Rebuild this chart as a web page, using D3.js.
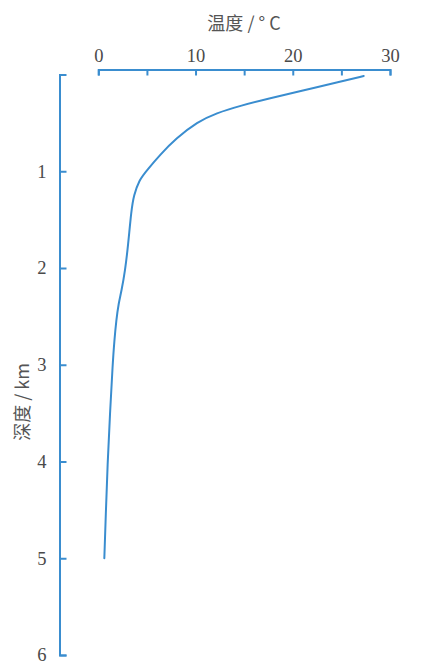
<!DOCTYPE html>
<html><head><meta charset="utf-8">
<script src="https://cdn.jsdelivr.net/npm/d3@7"></script>
<style>
html,body{margin:0;padding:0;background:#fff;}
</style></head>
<body>
<svg id="c" width="425" height="663"></svg>
<script>
const depthKm = [0.015, 0.075, 0.17, 0.25, 0.32, 0.40, 0.49, 0.66, 0.83, 0.99, 1.09, 1.25, 1.40, 1.78, 2.03, 2.23, 2.37, 2.54, 2.75, 2.99, 3.51, 4.03, 4.55, 5.0];
const tempC   = [27.3, 24.9, 20.8, 17.5, 14.7, 12.1, 10.2, 8.0, 6.35, 5.0, 4.2, 3.65, 3.4, 3.05, 2.75, 2.4, 2.08, 1.85, 1.65, 1.48, 1.2, 0.95, 0.77, 0.62];
const tempTicks = [0, 5, 10, 15, 20, 25, 30];
const tempLabels = [0, 10, 20, 30];
const depthTicks = [1, 2, 3, 4, 5, 6];
const xTitle = "温度 / ° C";
const yTitle = "深度 / km";

const blue = "#3a8dcf";
const textCol = "#4a4a4a";
const serif = "'Liberation Serif','DejaVu Serif',serif";
const cjk = "'Noto Sans CJK SC','Noto Sans CJK JP',sans-serif";

const svg = d3.select("#c");
const x = d3.scaleLinear().domain([0, 30]).range([98.3, 390]);
const y = d3.scaleLinear().domain([0, 6]).range([74.5, 655]);

const xAxis = d3.axisTop(x).tickValues(tempTicks)
  .tickFormat(d => tempLabels.includes(d) ? d : "")
  .tickSizeInner(-6).tickSizeOuter(-6).tickPadding(8);
const gx = svg.append("g").attr("transform", "translate(0,69.5)").call(xAxis);

const yAxis = d3.axisLeft(y).tickValues(depthTicks).tickFormat(d3.format("d"))
  .tickSizeInner(-7).tickSizeOuter(-7).tickPadding(13);
const gy = svg.append("g").attr("transform", "translate(59.5,0)").call(yAxis);

[gx, gy].forEach(g => {
  g.selectAll("path.domain").attr("stroke", blue).attr("stroke-width", 2);
  g.selectAll(".tick line").attr("stroke", blue).attr("stroke-width", 2);
  g.selectAll(".tick text").attr("fill", textCol)
    .style("font-family", serif).style("font-size", "18.5px");
});

svg.append("text").attr("x", 244).attr("y", 30)
  .attr("text-anchor", "middle").attr("fill", "#555")
  .style("font-family", cjk).style("font-size", "18px").text(xTitle);

svg.append("text").attr("transform", "translate(29,402) rotate(-90)")
  .attr("text-anchor", "middle").attr("fill", "#555")
  .style("font-family", cjk).style("font-size", "18px").text(yTitle);

const pts = depthKm.map((d, i) => [tempC[i], d]);
const line = d3.line().x(p => x(p[0])).y(p => y(p[1])).curve(d3.curveBasis);
svg.append("path").datum(pts).attr("d", line)
  .attr("fill", "none").attr("stroke", blue).attr("stroke-width", 2)
  .attr("stroke-linecap", "round");
</script>
</body></html>
